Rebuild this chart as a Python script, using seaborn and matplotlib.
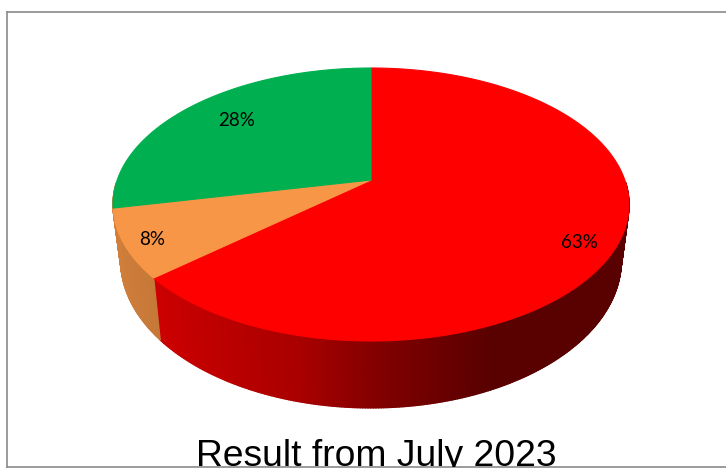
import numpy as np
import matplotlib
matplotlib.use("Agg")
import matplotlib.pyplot as plt
from matplotlib.patches import Polygon
import seaborn as sns

# Survey shares, in the order they run clockwise from twelve o'clock
categories = ["Red", "Amber", "Green"]
shares = [63, 8, 28]
share_labels = ["63%", "8%", "28%"]
title_text = "Result from July 2023"

top_colors = sns.color_palette(["#FF0000", "#F79646", "#00B050"])
# The green slice faces away, so the amber wall wraps round the left edge
wall_colors = [top_colors[0], top_colors[1], top_colors[1]]

# Projection of the tilted disc onto the page, in pixels
CX, CY = 371.0, 180.0
AX_X, AX_Y = 253.8, 132.1
TILT = 0.1795
# The lower face sits lower, a little narrower and seen from slightly higher up
LOW_SX, LOW_SY, LOW_DY = 0.97, 1.08, 54.0


def project(theta, radius=1.0, lower=False):
    """Map a clockwise angle from twelve o'clock to page coordinates."""
    u, v = radius * np.sin(theta), radius * np.cos(theta)
    w = 1 + TILT * v
    x, y = AX_X * u / w, -AX_Y * v / w
    if lower:
        x, y = x * LOW_SX, y * LOW_SY + LOW_DY
    return CX + x, CY + y


def wall_shade(x):
    """Side-wall brightness, falling away to the right."""
    return np.interp(x, [113, 155, 300, 371, 490, 629],
                     [0.84, 0.80, 0.66, 0.52, 0.35, 0.35])


sns.set_theme(style="white")
fig = plt.figure(figsize=(7.26, 4.68), dpi=100)
ax = fig.add_axes([6.5 / 726, 1.5 / 468, 1 - 6.5 / 726, 454.5 / 468])
ax.set_xlim(6.5, 726)
ax.set_ylim(466.5, 12)
ax.set_xticks([])
ax.set_yticks([])
for side, spine in ax.spines.items():
    spine.set_visible(side != "right")
    spine.set_color("#8a8a8a")
    spine.set_linewidth(1.2)

fractions = np.array(shares, dtype=float) / sum(shares)
edges = np.concatenate([[0.0], np.cumsum(fractions)]) * 2 * np.pi

# Side wall first, as narrow overlapping quads so the shading varies along the rim.
# Only the front half of the rim is drawn; the back is hidden by the top face.
for color, start, stop in zip(wall_colors, edges[:-1], edges[1:]):
    steps = max(2, int((stop - start) / np.radians(0.5)))
    thetas = np.linspace(start, stop, steps + 1)
    for t0, t1 in zip(thetas[:-1], thetas[1:]):
        if np.cos((t0 + t1) / 2) > -0.02:
            continue
        xa, ya = project(t0)
        xb, yb = project(t1)
        xc, yc = project(t1, lower=True)
        xd, yd = project(t0, lower=True)
        shade = wall_shade((xa + xb) / 2)
        wall_color = tuple(c * shade for c in color)
        ax.add_patch(Polygon([(xa, ya), (xb, yb), (xc, yc), (xd, yd)],
                             closed=True, facecolor=wall_color,
                             edgecolor=wall_color, linewidth=1.0,
                             joinstyle="round"))

# Top face of each slice
for color, start, stop in zip(top_colors, edges[:-1], edges[1:]):
    thetas = np.linspace(start, stop, 200)
    xs, ys = project(thetas)
    verts = np.column_stack([np.r_[CX, xs], np.r_[CY, ys]])
    ax.add_patch(Polygon(verts, closed=True, facecolor=color,
                         edgecolor=color, linewidth=0.8, zorder=3))

# Percentage labels, placed along each slice's angle
label_angle_offsets = [0.524, 0.46, 0.514]
label_radii = [0.876, 0.90, 0.761]
for label, start, stop, off, rad in zip(share_labels, edges[:-1], edges[1:],
                                        label_angle_offsets, label_radii):
    lx, ly = project(start + off * (stop - start), radius=rad)
    ax.text(lx, ly, label, ha="center", va="center", fontsize=13.5,
            family=["Lato", "DejaVu Sans"], color="black", zorder=4)

# The caption runs into the frame's bottom edge and is clipped there
ax.text(376.5, 465.5, title_text, ha="center", va="baseline", fontsize=26.8,
        family=["Liberation Sans", "DejaVu Sans"], color="black", clip_on=True)

fig.savefig("out.png", dpi=100, facecolor="white")
